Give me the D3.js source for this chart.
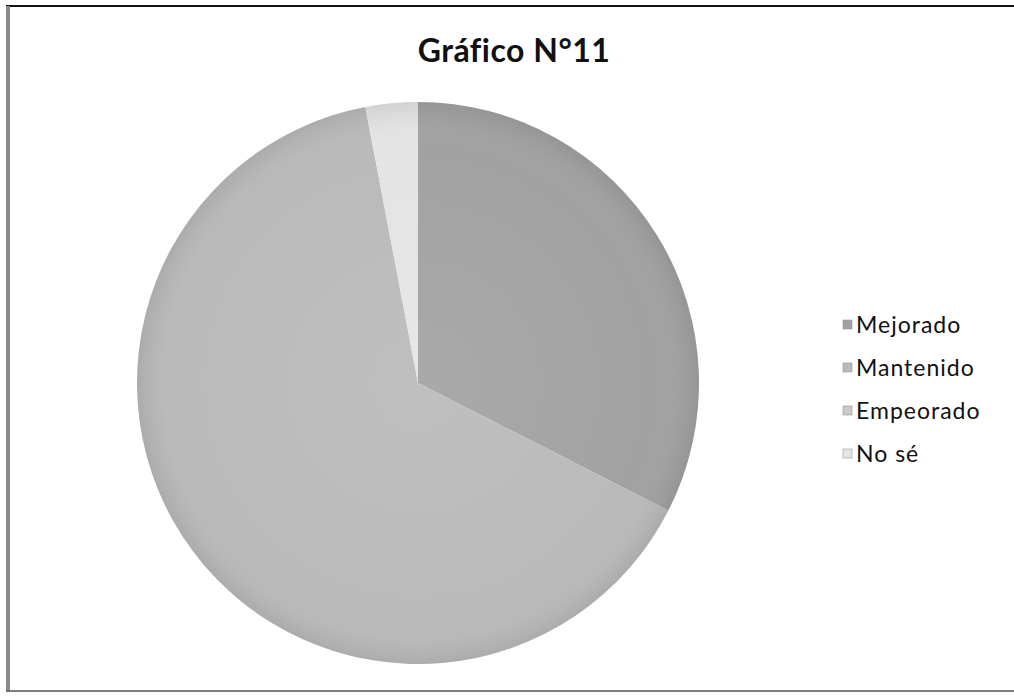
<!DOCTYPE html>
<html>
<head>
<meta charset="utf-8">
<script src="https://cdn.jsdelivr.net/npm/d3@7"></script>
<style>
  html, body { margin: 0; padding: 0; background: #fff; }
  svg { display: block; }
</style>
</head>
<body>
<div id="chart"></div>
<script>
// chart data
var title = 'Gráfico N°11';
var categories = ['Mejorado', 'Mantenido', 'Empeorado', 'No sé'];
var values = [32.5, 64.5, 0, 3];
var colors = ['#a2a2a2', '#bababa', '#cacaca', '#e4e4e4'];

var width = 1014, height = 698;
var cx = 418, cy = 383, radius = 281;

var svg = d3.select('#chart').append('svg')
	.attr('width', width)
	.attr('height', height);

// frame of the chart area
svg.append('line')
	.attr('x1', 6).attr('y1', 6).attr('x2', width).attr('y2', 6)
	.attr('stroke', '#111').attr('stroke-width', 2);
svg.append('line')
	.attr('x1', 8).attr('y1', 6).attr('x2', 8).attr('y2', 691)
	.attr('stroke', '#8a8a8a').attr('stroke-width', 4);
svg.append('line')
	.attr('x1', 6).attr('y1', 691).attr('x2', width).attr('y2', 691)
	.attr('stroke', '#555').attr('stroke-width', 1.5);

svg.append('text')
	.attr('x', 514)
	.attr('y', 62)
	.attr('text-anchor', 'middle')
	.attr('font-family', 'Lato, "DejaVu Sans", sans-serif')
	.attr('font-weight', 'bold')
	.attr('font-size', 32)
	.attr('letter-spacing', 0.5)
	.attr('fill', '#111')
	.text(title);

var data = categories.map(function(c, i){ return { name: c, value: values[i], color: colors[i] }; });

var pie = d3.pie()
	.sort(null)
	.value(function(d){ return d.value; });

var arc = d3.arc()
	.innerRadius(0)
	.outerRadius(radius);

// soft shading like the original office style
var defs = svg.append('defs');
var shade = defs.append('radialGradient')
	.attr('id', 'shade')
	.attr('gradientUnits', 'userSpaceOnUse')
	.attr('cx', cx).attr('cy', cy).attr('r', radius);
shade.append('stop').attr('offset', '0%').attr('stop-color', '#fff').attr('stop-opacity', 0.08);
shade.append('stop').attr('offset', '85%').attr('stop-color', '#fff').attr('stop-opacity', 0);
shade.append('stop').attr('offset', '100%').attr('stop-color', '#000').attr('stop-opacity', 0.08);

var g = svg.append('g')
	.attr('transform', 'translate(' + cx + ',' + cy + ')');

g.selectAll('path.slice')
	.data(pie(data))
	.enter().append('path')
	.attr('class', 'slice')
	.attr('d', arc)
	.attr('fill', function(d){ return d.data.color; });

svg.append('circle')
	.attr('cx', cx).attr('cy', cy)
	.attr('r', radius)
	.attr('fill', 'url(#shade)');

// legend
var legend = svg.append('g')
	.attr('transform', 'translate(843,325)');

var item = legend.selectAll('g.item')
	.data(data)
	.enter().append('g')
	.attr('class', 'item')
	.attr('transform', function(d, i){ return 'translate(0,' + (i * 43) + ')'; });

item.append('rect')
	.attr('x', 0).attr('y', -5)
	.attr('width', 9).attr('height', 9)
	.attr('fill', function(d){ return d.color; })
	.attr('stroke', '#888').attr('stroke-width', 0.5);

item.append('text')
	.attr('x', 13)
	.attr('y', 8)
	.attr('font-family', 'Lato, "DejaVu Sans", sans-serif')
	.attr('font-size', 23)
	.attr('letter-spacing', 1)
	.attr('fill', '#111')
	.text(function(d){ return d.name; });
</script>
</body>
</html>
